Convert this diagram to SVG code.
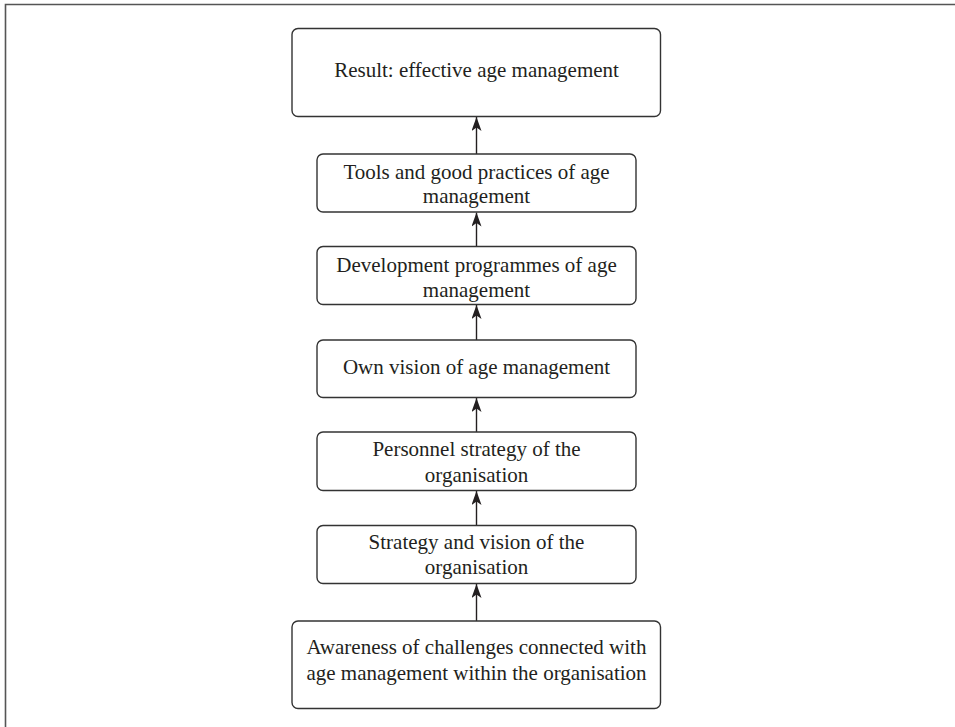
<svg xmlns="http://www.w3.org/2000/svg" width="955" height="727" viewBox="0 0 955 727">
<defs>
<style>
.box{fill:#fff;stroke:#333;stroke-width:1.4}
.t{font-family:"Liberation Serif","Times New Roman",serif;font-size:21px;fill:#231f20;text-anchor:middle}
.c{stroke:#231f20;stroke-width:1.4;fill:none}
</style>
<marker id="ah" markerUnits="userSpaceOnUse" viewBox="0 -5 14 10" markerWidth="14" markerHeight="10" refX="14" refY="0" orient="auto">
<path d="M0,-5 L14,0 L0,5 L3.5,0 Z" fill="#231f20"/>
</marker>
</defs>
<rect width="955" height="727" fill="#fff"/>
<path d="M5.5,727 V4.5 H955" fill="none" stroke="#555" stroke-width="1.6"/>
<g id="connectors">
<line class="c" x1="476.5" y1="154" x2="476.5" y2="117" marker-end="url(#ah)"/>
<line class="c" x1="476.5" y1="246.5" x2="476.5" y2="212.5" marker-end="url(#ah)"/>
<line class="c" x1="476.5" y1="340" x2="476.5" y2="305" marker-end="url(#ah)"/>
<line class="c" x1="476.5" y1="432" x2="476.5" y2="398" marker-end="url(#ah)"/>
<line class="c" x1="476.5" y1="525.5" x2="476.5" y2="491" marker-end="url(#ah)"/>
<line class="c" x1="476.5" y1="621" x2="476.5" y2="584" marker-end="url(#ah)"/>
</g>
<g id="n1"><rect class="box" x="292" y="28.5" width="368.5" height="88" rx="6"/><text class="t" x="476.5" y="77">Result: effective age management</text></g>
<g id="n2"><rect class="box" x="317" y="154" width="319" height="58" rx="6"/><text class="t" x="476.5" y="178.5">Tools and good practices of age</text><text class="t" x="476.5" y="202.5">management</text></g>
<g id="n3"><rect class="box" x="317" y="246.5" width="319" height="58" rx="6"/><text class="t" x="476.5" y="271.5">Development programmes of age</text><text class="t" x="476.5" y="296.5">management</text></g>
<g id="n4"><rect class="box" x="317" y="340" width="319" height="57.5" rx="6"/><text class="t" x="476.5" y="374">Own vision of age management</text></g>
<g id="n5"><rect class="box" x="317" y="432" width="319" height="58.5" rx="6"/><text class="t" x="476.5" y="456">Personnel strategy of the</text><text class="t" x="476.5" y="481.5">organisation</text></g>
<g id="n6"><rect class="box" x="317" y="525.5" width="319" height="58" rx="6"/><text class="t" x="476.5" y="548.5">Strategy and vision of the</text><text class="t" x="476.5" y="573.5">organisation</text></g>
<g id="n7"><rect class="box" x="292" y="621" width="368.5" height="87.5" rx="6"/><text class="t" x="476.5" y="653.5">Awareness of challenges connected with</text><text class="t" x="476.5" y="679.5">age management within the organisation</text></g>
</svg>
